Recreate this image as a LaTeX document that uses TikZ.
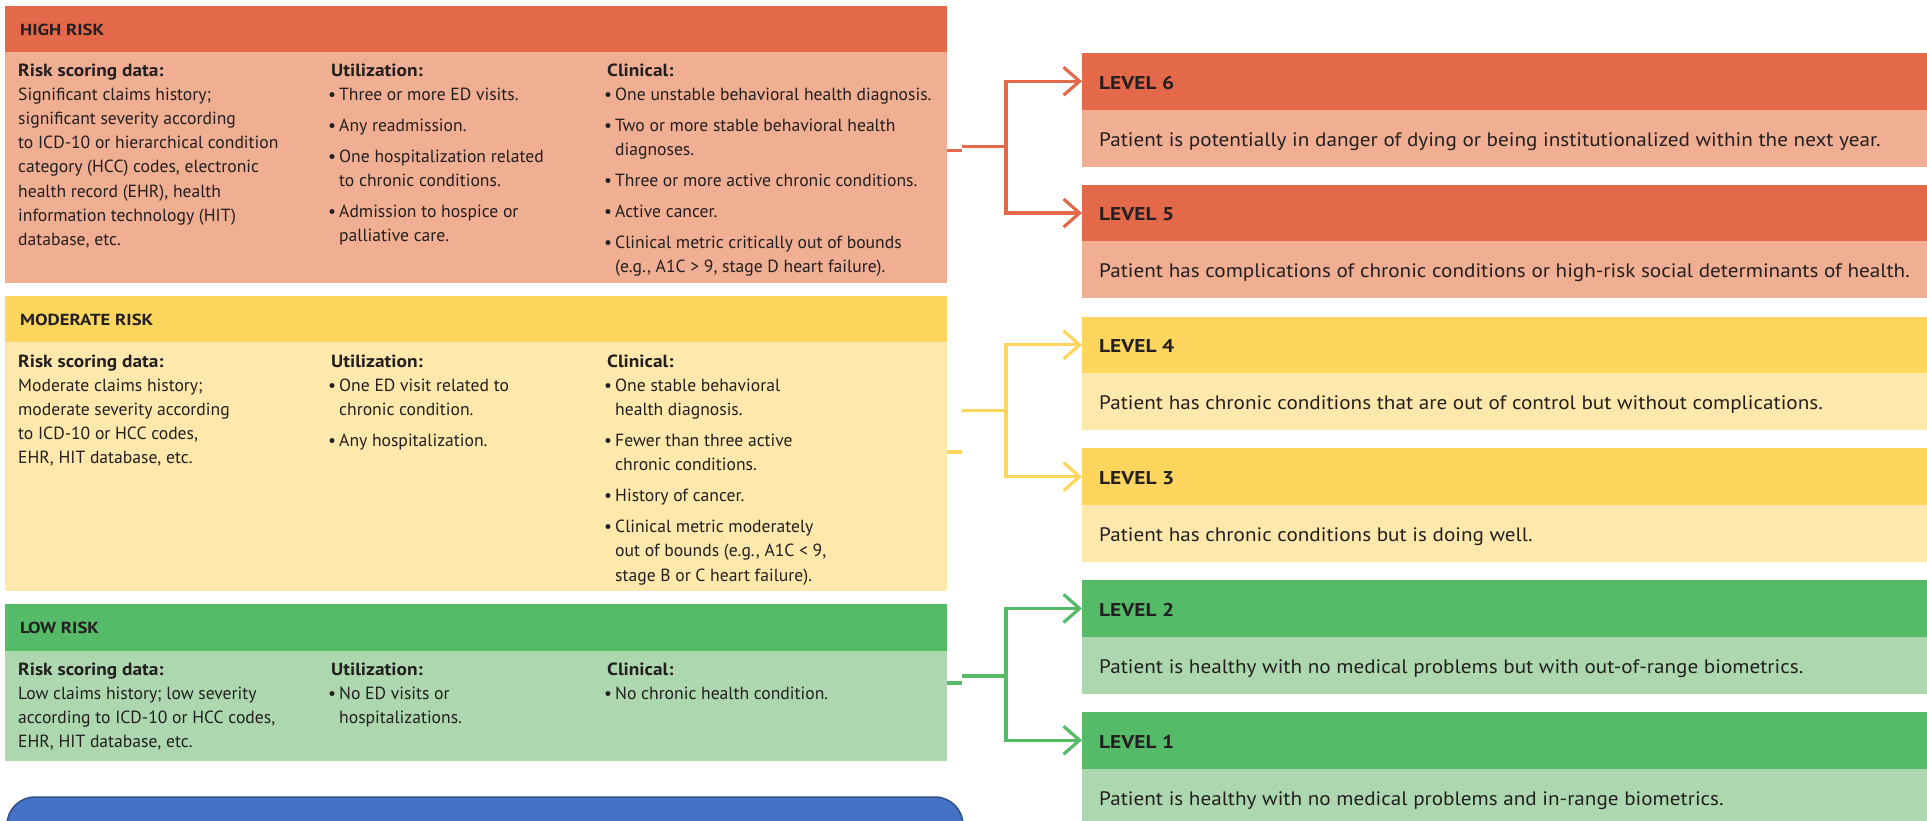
\documentclass[tikz,border=0pt]{standalone}
\usepackage{fontspec}
\setmainfont{PT Sans}
\newfontfamily\lvlfont[FakeStretch=1.085]{PT Sans}
\newfontfamily\lvlhdfont[FakeStretch=1.16]{PT Sans}
\newfontfamily\riskfont[FakeStretch=1.17]{PT Sans}
\newfontfamily\lblfont[FakeStretch=1.1]{PT Sans}
\usetikzlibrary{arrows.meta}
\definecolor{oH}{HTML}{E4694A}
\definecolor{oL}{HTML}{F0AE92}
\definecolor{yH}{HTML}{FFD65D}
\definecolor{yL}{HTML}{FFE8AB}
\definecolor{gH}{HTML}{55BB69}
\definecolor{gL}{HTML}{ADD8AF}
\definecolor{blF}{HTML}{4472C4}
\definecolor{blB}{HTML}{2F528F}
\definecolor{txt}{HTML}{231F20}
\newcommand\myln[1]{\hbox{#1}}
\newcommand\mylbl[1]{\hbox{{\lblfont\bfseries #1}}}
\newcommand\myit[1]{\hbox{\hbox to 11pt{•\hss}#1}}
\newcommand\mycont[1]{\hbox{\hskip11pt #1}}
\newcommand\myhd[1]{\hbox{\hskip3pt{\lblfont\bfseries #1}}}
\newcommand\mygap{\vskip6.8pt}
\newcommand\colblock[1]{\vtop{\baselineskip=24.2pt\lineskiplimit=-20pt #1}}
\tikzset{
  x=1pt, y=-1pt,
  panel/.style={rectangle, draw=none, inner sep=0pt, outer sep=0pt, anchor=north west},
  lefttxt/.style={inner sep=0pt, anchor=base west, text=txt, font=\fontsize{17.6}{24.2}\selectfont},
  riskhd/.style={inner sep=0pt, anchor=base west, text=txt, font=\riskfont\fontsize{16}{19}\selectfont\bfseries},
  lvlhd/.style={inner sep=0pt, anchor=base west, text=txt, font=\lvlhdfont\fontsize{18.5}{22}\selectfont\bfseries},
  lvltxt/.style={inner sep=0pt, anchor=base west, text=txt, font=\lvlfont\fontsize{19.5}{24}\selectfont},
  conn/.style={line width=3.2pt, line join=miter},
  arr/.style={conn, -{Straight Barb[length=16pt,width=28pt]}},
}
\begin{document}
\begin{tikzpicture}
\useasboundingbox (0,0) rectangle (1927,820);
\clip (0,0) rectangle (1927,820);

% ---------------- left panels ----------------
\node[panel, fill=oH, minimum width=942, minimum height=46] (hiH) at (5,6) {};
\node[panel, fill=oL, minimum width=942, minimum height=231] (hiB) at (5,52) {};
\node[panel, fill=yH, minimum width=942, minimum height=46] (moH) at (5,296) {};
\node[panel, fill=yL, minimum width=942, minimum height=249] (moB) at (5,342) {};
\node[panel, fill=gH, minimum width=942, minimum height=47] (loH) at (5,604) {};
\node[panel, fill=gL, minimum width=942, minimum height=110] (loB) at (5,651) {};
\node[panel, fill=blF, draw=blB, line width=1.5pt, rounded corners=28pt, minimum width=956, minimum height=120] (blue) at (7,797) {};

\node[riskhd] (hiT) at (20,35) {HIGH RISK};
\node[riskhd] (moT) at (20,325) {MODERATE RISK};
\node[riskhd] (loT) at (20,633) {LOW RISK};

% high risk columns
\node[lefttxt] (hi1) at (18,76) {\colblock{%
\mylbl{Risk scoring data:}
\myln{Significant claims history;}
\myln{significant severity according}
\myln{to ICD-10 or hierarchical condition}
\myln{category (HCC) codes, electronic}
\myln{health record (EHR), health}
\myln{information technology (HIT)}
\myln{database, etc.}}};
\node[lefttxt] (hi2) at (328,76) {\colblock{%
\myhd{Utilization:}
\myit{Three or more ED visits.}\mygap
\myit{Any readmission.}\mygap
\myit{One hospitalization related}
\mycont{to chronic conditions.}\mygap
\myit{Admission to hospice or}
\mycont{palliative care.}}};
\node[lefttxt] (hi3) at (604,76) {\colblock{%
\myhd{Clinical:}
\myit{One unstable behavioral health diagnosis.}\mygap
\myit{Two or more stable behavioral health}
\mycont{diagnoses.}\mygap
\myit{Three or more active chronic conditions.}\mygap
\myit{Active cancer.}\mygap
\myit{Clinical metric critically out of bounds}
\mycont{(e.g., A1C > 9, stage D heart failure).}}};

% moderate risk columns
\node[lefttxt] (mo1) at (18,367) {\colblock{%
\mylbl{Risk scoring data:}
\myln{Moderate claims history;}
\myln{moderate severity according}
\myln{to ICD-10 or HCC codes,}
\myln{EHR, HIT database, etc.}}};
\node[lefttxt] (mo2) at (328,367) {\colblock{%
\myhd{Utilization:}
\myit{One ED visit related to}
\mycont{chronic condition.}\mygap
\myit{Any hospitalization.}}};
\node[lefttxt] (mo3) at (604,367) {\colblock{%
\myhd{Clinical:}
\myit{One stable behavioral}
\mycont{health diagnosis.}\mygap
\myit{Fewer than three active}
\mycont{chronic conditions.}\mygap
\myit{History of cancer.}\mygap
\myit{Clinical metric moderately}
\mycont{out of bounds (e.g., A1C < 9,}
\mycont{stage B or C heart failure).}}};

% low risk columns
\node[lefttxt] (lo1) at (18,675) {\colblock{%
\mylbl{Risk scoring data:}
\myln{Low claims history; low severity}
\myln{according to ICD-10 or HCC codes,}
\myln{EHR, HIT database, etc.}}};
\node[lefttxt] (lo2) at (328,675) {\colblock{%
\myhd{Utilization:}
\myit{No ED visits or}
\mycont{hospitalizations.}}};
\node[lefttxt] (lo3) at (604,675) {\colblock{%
\myhd{Clinical:}
\myit{No chronic health condition.}}};

% ---------------- level panels ----------------
\foreach \k/\t/\hc/\bc/\txt in {
  6/53/oH/oL/{Patient is potentially in danger of dying or being institutionalized within the next year.},
  5/184.8/oH/oL/{Patient has complications of chronic conditions or high-risk social determinants of health.},
  4/316.6/yH/yL/{Patient has chronic conditions that are out of control but without complications.},
  3/448.4/yH/yL/{Patient has chronic conditions but is doing well.},
  2/580.2/gH/gL/{Patient is healthy with no medical problems but with out-of-range biometrics.},
  1/712/gH/gL/{Patient is healthy with no medical problems and in-range biometrics.}}{
  \node[panel, fill=\hc, minimum width=850, minimum height=56.5] (L\k H) at (1082,\t) {};
  \node[panel, fill=\bc, minimum width=850, minimum height=57] (L\k B) at (1082,\t+56.5) {};
  \node[lvlhd] (L\k T) at (1099,\t+36) {LEVEL \k};
  \node[lvltxt] (L\k D) at (1099,\t+93) {\txt};
}

% ---------------- connectors ----------------
\coordinate (hs) at (962,150.6);
\coordinate (hm) at (1006,146.4);
\draw[conn, oH] (hs -| hiB.east) -- (hs);
\draw[conn, oH] (hs |- hm) -- (hm);
\draw[arr, oH] (hm) |- (L6H.west);
\draw[arr, oH] (hm) |- (L5H.west);

\coordinate (ms) at (962,452);
\coordinate (mm) at (1006,410.6);
\draw[conn, yH] (ms -| moB.east) -- (ms);
\draw[conn, yH] (ms |- mm) -- (mm);
\draw[arr, yH] (mm) |- (L4H.west);
\draw[arr, yH] (mm) |- (L3H.west);

\coordinate (ls) at (962,683);
\coordinate (lm) at (1006,676);
\draw[conn, gH] (ls -| loB.east) -- (ls);
\draw[conn, gH] (ls |- lm) -- (lm);
\draw[arr, gH] (lm) |- (L2H.west);
\draw[arr, gH] (lm) |- (L1H.west);
\end{tikzpicture}
\end{document}
